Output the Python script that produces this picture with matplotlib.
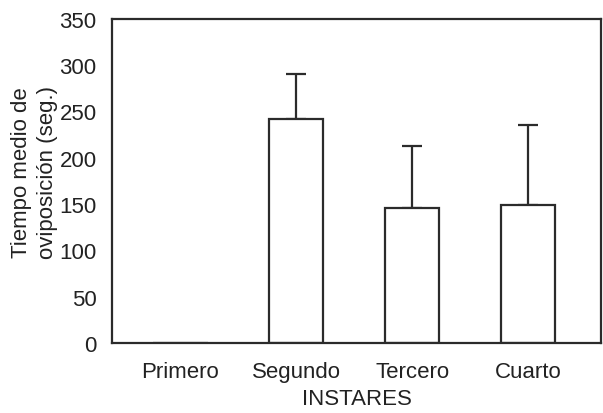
import matplotlib
matplotlib.use("Agg")
import matplotlib.pyplot as plt

categories = ["Primero", "Segundo", "Tercero", "Cuarto"]
means = [0, 242, 146, 149]
errors = [0, 48, 67, 86]

plt.rcParams['font.family'] = ['Liberation Sans', 'DejaVu Sans']
ink = '#2b2b2b'
txt = '#222222'

fig = plt.figure(figsize=(6.03, 4.14), dpi=100)
ax = fig.add_axes([0.1857, 0.169, 0.811, 0.783])

x = list(range(len(categories)))
ax.bar(x, means, width=0.47, facecolor='white', edgecolor=ink, linewidth=1.6, zorder=2)
for xi, m, e in zip(x, means, errors):
    if e > 0:
        ax.errorbar(xi, m, yerr=[[0], [e]], fmt='none', ecolor=ink,
                    elinewidth=1.6, capsize=7, capthick=1.6, zorder=1)

ax.set_xlim(-0.59, 3.63)
ax.set_ylim(0, 350)
ax.set_yticks(range(0, 351, 50))
ax.set_xticks(x)
ax.set_xticklabels(categories)
ax.tick_params(length=0, labelsize=16, colors=txt)
ax.tick_params(axis='y', pad=11)
ax.tick_params(axis='x', pad=13)
for s in ax.spines.values():
    s.set_linewidth(1.6)
    s.set_color(ink)

ax.set_ylabel("Tiempo medio de\noviposición (seg.)", fontsize=16, color=txt,
              linespacing=1.3, labelpad=1, y=0.53)
ax.set_xlabel("INSTARES", fontsize=16, color=txt, labelpad=4)

fig.savefig("out.png", dpi=100)
